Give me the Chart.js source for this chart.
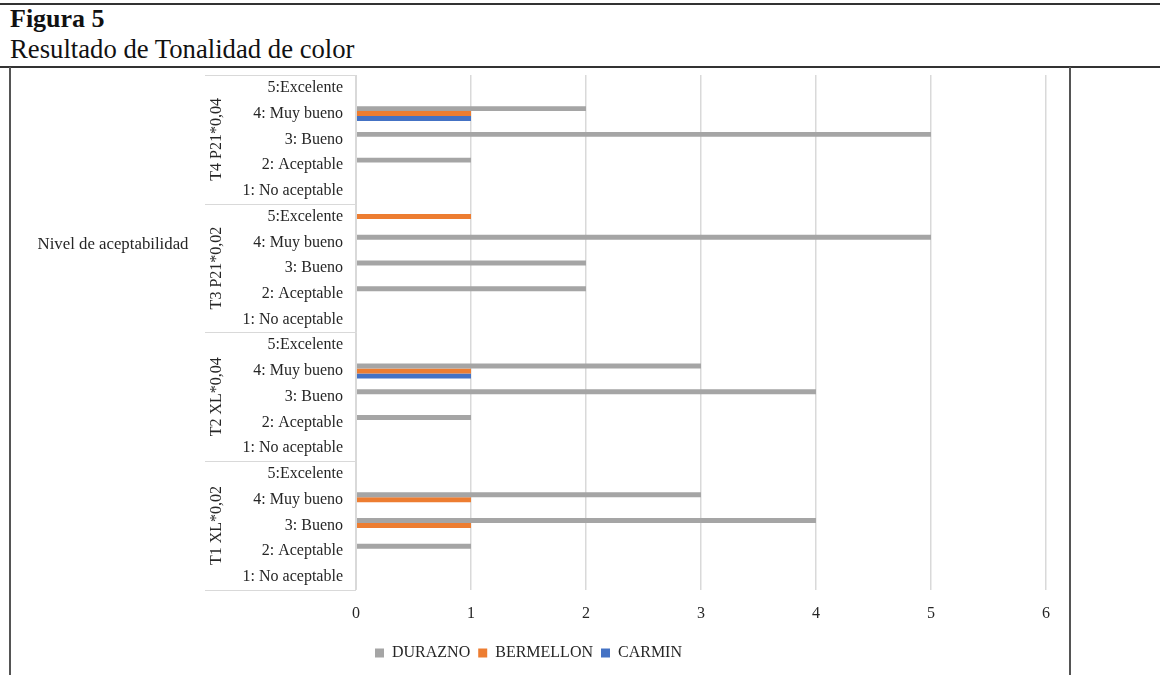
<!DOCTYPE html>
<html>
<head>
<meta charset="utf-8">
<script src="https://cdn.jsdelivr.net/npm/chart.js@4.4.1/dist/chart.umd.min.js"></script>
<style>
  body { margin: 0; background: #fff; font-family: "Liberation Serif", "Times New Roman", serif; }
  #page { position: relative; width: 1160px; height: 675px; overflow: hidden; }
  .hline { position: absolute; left: 0; width: 1160px; background: #333; }
  .vline { position: absolute; width: 2px; background: #555; }
  #fig { position: absolute; left: 10px; top: 4px; font-size: 26px; font-weight: bold; color: #111; }
  #sub { position: absolute; left: 10px; top: 34px; font-size: 26.7px; color: #111; }
  #wrap { position: absolute; left: 11px; top: 68px; width: 1058px; height: 607px; }
</style>
</head>
<body>
<div id="page">
  <div class="hline" style="top:3px;height:2px;"></div>
  <div id="fig">Figura 5</div>
  <div id="sub">Resultado de Tonalidad de color</div>
  <div class="hline" style="top:66px;height:2px;"></div>
  <div class="vline" style="left:9px;top:67px;height:608px;"></div>
  <div class="vline" style="left:1069px;top:67px;height:608px;"></div>
  <div id="wrap"><canvas id="chart"></canvas></div>
</div>
<script>
// Data (top to bottom, as shown)
const groups = ["T4 P21*0,04", "T3 P21*0,02", "T2 XL*0,04", "T1 XL*0,02"];
const levels = ["5:Excelente", "4: Muy bueno", "3: Bueno", "2: Aceptable", "1: No aceptable"];
const axisTitle = "Nivel de aceptabilidad";
const durazno   = [0, 2, 5, 1, 0,  0, 5, 2, 2, 0,  0, 3, 4, 1, 0,  0, 3, 4, 1, 0];
const bermellon = [0, 1, 0, 0, 0,  1, 0, 0, 0, 0,  0, 1, 0, 0, 0,  0, 1, 1, 0, 0];
const carmin    = [0, 1, 0, 0, 0,  0, 0, 0, 0, 0,  0, 1, 0, 0, 0,  0, 0, 0, 0, 0];
const xTicks = [0, 1, 2, 3, 4, 5, 6];

const labels = [];
groups.forEach(function () {
  levels.forEach(function (l) { labels.push(l); });
});

const textColor = "#262626";
const lineColor = "#d9d9d9";
Chart.defaults.font.family = "'Liberation Serif', 'Times New Roman', serif";
Chart.defaults.font.size = 16;
Chart.defaults.color = textColor;

// draws the multi-level category axis (group names, separators, outer title)
const groupAxis = {
  id: "groupAxis",
  afterDraw: function (chart) {
    const ctx = chart.ctx;
    const y = chart.scales.y;
    const area = chart.chartArea;
    const step = y.getPixelForValue(1) - y.getPixelForValue(0);
    const leftEdge = area.left - 151;
    ctx.save();
    ctx.strokeStyle = lineColor;
    ctx.lineWidth = 1;
    ctx.beginPath();
    ctx.moveTo(area.left + 0.5, area.top);
    ctx.lineTo(area.left + 0.5, area.bottom);
    for (let g = 0; g <= groups.length; g++) {
      const py = Math.round(y.getPixelForValue(g * levels.length) - step / 2) + 0.5;
      ctx.moveTo(leftEdge, py);
      ctx.lineTo(area.left, py);
    }
    ctx.stroke();

    ctx.fillStyle = textColor;
    ctx.font = "16px 'Liberation Serif', 'Times New Roman', serif";
    ctx.textAlign = "center";
    ctx.textBaseline = "middle";
    groups.forEach(function (name, g) {
      const a = y.getPixelForValue(g * levels.length);
      const b = y.getPixelForValue(g * levels.length + levels.length - 1);
      ctx.save();
      ctx.translate(leftEdge + 12, (a + b) / 2);
      ctx.rotate(-Math.PI / 2);
      ctx.fillText(name, 0, 0);
      ctx.restore();
    });
    ctx.font = "16.8px 'Liberation Serif', 'Times New Roman', serif";
    ctx.fillText(axisTitle, 102, area.top + 170);
    ctx.restore();
  }
};

new Chart(document.getElementById("chart"), {
  type: "bar",
  data: {
    labels: labels,
    datasets: [
      { label: "DURAZNO", data: durazno, backgroundColor: "#a5a5a5" },
      { label: "BERMELLON", data: bermellon, backgroundColor: "#ed7d31" },
      { label: "CARMIN", data: carmin, backgroundColor: "#4472c4" }
    ]
  },
  options: {
    indexAxis: "y",
    responsive: true,
    maintainAspectRatio: false,
    animation: false,
    datasets: { bar: { categoryPercentage: 0.58, barPercentage: 1.0, borderWidth: 0 } },
    layout: { padding: { top: 7, right: 23, bottom: 4, left: 0 } },
    plugins: {
      legend: {
        position: "bottom",
        labels: { boxWidth: 9, boxHeight: 9, padding: 8, color: textColor }
      },
      tooltip: { enabled: false }
    },
    scales: {
      x: {
        min: 0,
        max: 6,
        afterBuildTicks: function (scale) {
          scale.ticks = xTicks.map(function (v) { return { value: v }; });
        },
        grid: { color: lineColor, lineWidth: 1.5, drawTicks: false },
        border: { display: false },
        ticks: { padding: 14, color: textColor }
      },
      y: {
        grid: { display: false, drawTicks: false },
        border: { display: false },
        ticks: { padding: 13, color: textColor, autoSkip: false },
        afterFit: function (scale) {
          scale.width = 345;
          scale.paddingTop = 0;
          scale.paddingBottom = 0;
        }
      }
    }
  },
  plugins: [groupAxis]
});
</script>
</body>
</html>
